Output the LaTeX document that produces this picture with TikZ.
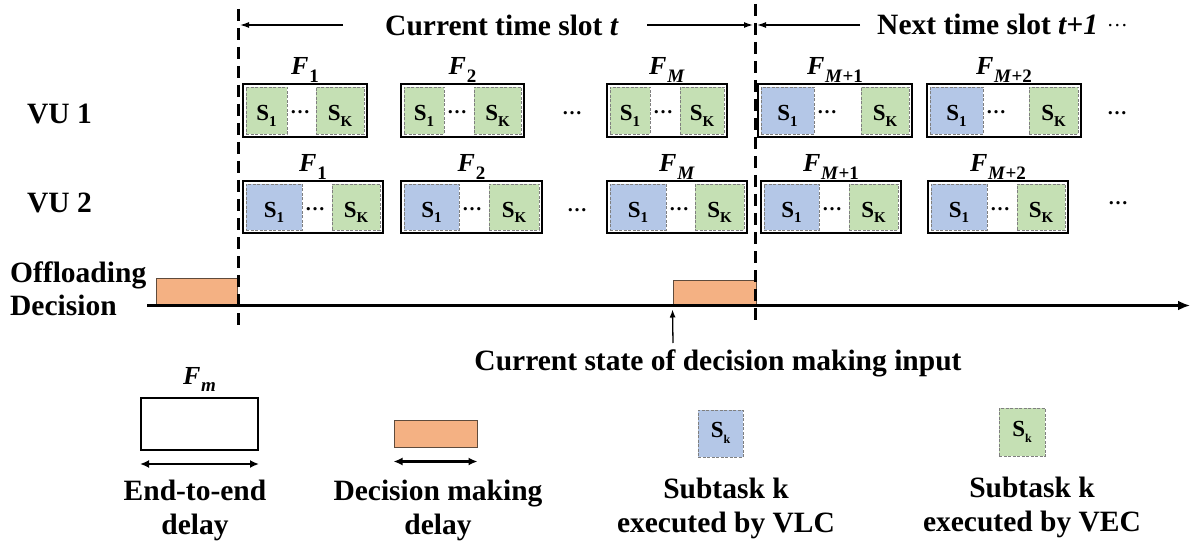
\documentclass[tikz,border=0pt]{standalone}
\usepackage{fontspec}
\setmainfont{Liberation Serif}
\usetikzlibrary{fit,arrows.meta}

\definecolor{vlcblue}{HTML}{B4C7E7}
\definecolor{vecgreen}{HTML}{C5E0B4}
\definecolor{decorange}{HTML}{F4B183}
\definecolor{decedge}{HTML}{5E4B3C}
\definecolor{subedge}{HTML}{7F7F7F}

% frame label F with a subscript
\newcommand\Fl[1]{\textbf{\textit{F}}\kern0.03em\raisebox{-0.3em}{\fontsize{19}{19}\selectfont\bfseries #1}}
% subtask label S with a subscript
\newcommand\Ss[1]{S\raisebox{-0.22em}{\fontsize{15}{15}\selectfont #1}}
\newcommand\Ssmall[1]{S\raisebox{-0.28em}{\fontsize{12}{12}\selectfont #1}}

\tikzset{
  frame/.style={draw=black, line width=2pt, inner sep=0pt, fill=white},
  subbox/.style={draw=subedge, line width=0.8pt, dash pattern=on 3pt off 1.5pt, inner sep=0pt},
  subtext/.style={font=\fontsize{23}{23}\selectfont\bfseries, inner sep=0pt, anchor=base},
  vlc/.style={subbox, fill=vlcblue},
  vec/.style={subbox, fill=vecgreen},
  flabel/.style={font=\fontsize{26}{26}\selectfont, anchor=base, inner sep=0pt},
  big/.style={font=\fontsize{29.5}{34}\selectfont\bfseries, inner sep=0pt},
  slotline/.style={line width=3pt, dash pattern=on 12pt off 7pt},
  slotarrow/.style={line width=1.3pt, -{Latex[length=9pt,width=6pt]}},
  decision/.style={draw=decedge, line width=1pt, fill=decorange, inner sep=0pt},
  dotsnode/.style={font=\fontsize{20}{20}\selectfont\bfseries, anchor=base, inner sep=0pt},
  legarrow/.style={line width=2.5pt, {Latex[length=9pt,width=8pt]}-{Latex[length=9pt,width=8pt]}},
}

% #1 name, #2 x1, #3 x2, #4 y1, #5 y2, #6 style of S_1, #7 right of S_1, #8 left of S_K, #9 label
\newcommand\taskframe[9]{%
  \node[frame, fit={(#2,#4)(#3,#5)}] (#1) {};
  \node[#6, fit={({#2+3},{#4+3})(#7,{#5-3})}] (#1a) {};
  \node[vec, fit={(#8,{#4+3})({#3-3},{#5-3})}] (#1b) {};
  \node[subtext] (#1at) at ([yshift=-10.5pt]#1a.center) {\Ss{1}};
  \node[subtext] (#1bt) at ([yshift=-10.5pt]#1b.center) {\Ss{K}};
  \node[dotsnode, anchor=base west] (#1d) at ({#7+3},{(#4+#5)/2+3.5}) {…};
  \node[flabel] (#1l) at ([yshift=8pt]#1.north) {\Fl{#9}};
}

\begin{document}
\begin{tikzpicture}[x=1pt, y=-1pt]
\useasboundingbox (0,0) rectangle (1191,548);

% time slot boundaries
\coordinate (d1top) at (238,9);
\coordinate (d1bot) at (238,326);
\coordinate (d2top) at (755,4);
\coordinate (d2bot) at (755,326);

% headings
\node[big, anchor=base west] (cur) at (385,36) {Current time slot \textit{t}};
\node[big, anchor=base west] (nxt) at (877,35) {Next time slot \textit{t+1}\hspace{0.3em}{\mdseries\fontsize{21}{21}\selectfont\raisebox{8.5pt}{…}}};
\coordinate (a1s) at (343,25);
\coordinate (a1e) at (240,25);
\coordinate (a2s) at (647,25);
\coordinate (a2e) at (753,25);
\coordinate (a3s) at (860,25);
\coordinate (a3e) at (757,25);
\draw[slotarrow] (a1s) -- (a1e);
\draw[slotarrow] (a2s) -- (a2e);
\draw[slotarrow] (a3s) -- (a3e);

% row labels
\node[big, anchor=base west] (vu1) at (27,124) {VU 1};
\node[big, anchor=base west] (vu2) at (27,213) {VU 2};
\node[big, anchor=base west] (off) at (10,282) {Offloading};
\node[big, anchor=base west] (dec) at (10,315) {Decision};

% VU 1 frames
\taskframe{A1}{243}{367}{84}{137}{vec}{287}{316}{1}
\taskframe{A2}{401}{524}{84}{137}{vec}{444}{474}{2}
\taskframe{AM}{607}{727}{84}{137}{vec}{650}{680}{\textit{M}}
\taskframe{AN}{758}{912}{84}{137}{vlc}{814}{861}{\textit{M}+1}
\taskframe{AP}{927}{1081}{84}{137}{vlc}{983}{1029}{\textit{M}+2}
\node[dotsnode] (Adots1) at (572,114.5) {…};
\node[dotsnode] (Adots2) at (1117,114.5) {…};

% VU 2 frames
\taskframe{B1}{243}{383}{181}{233}{vlc}{302}{332}{1}
\taskframe{B2}{401}{542}{181}{233}{vlc}{459}{489}{2}
\taskframe{BM}{607}{747}{181}{233}{vlc}{666}{695}{\textit{M}}
\taskframe{BN}{761}{901}{181}{233}{vlc}{819}{849}{\textit{M}+1}
\taskframe{BP}{928}{1068}{181}{233}{vlc}{987}{1017}{\textit{M}+2}
\node[dotsnode] (Bdots1) at (577,211.5) {…};
\node[dotsnode] (Bdots2) at (1118,205) {…};

% decision making intervals and time axis
\node[decision, fit={(156,278)(237,305)}] (od1) {};
\node[decision, fit={(673,280)(756,305)}] (od2) {};
\coordinate (ax0) at (147,305.5);
\coordinate (ax1) at (1190,305.5);
\draw[line width=2.5pt, -{Latex[length=12pt,width=10pt]}] (ax0) -- (ax1);

\draw[slotline] (d1top) -- (d1bot);
\draw[slotline] (d2top) -- (d2bot);

% decision input marker
\node[big, anchor=base] (cs) at (718,370) {Current state of decision making input};
\coordinate (csin) at (673,343);
\draw[line width=1.3pt, -{Latex[length=8pt,width=6pt]}] (csin) -- ([yshift=-4pt]od2.south west);

% legend
\node[frame, fit={(141,398)(258,450)}] (lf) {};
\node[flabel] (lfl) at ([yshift=13pt]lf.north) {\Fl{\textit{m}}};
\draw[legarrow] ([yshift=-13pt]lf.south west) -- ([yshift=-13pt]lf.south east);
\node[big, align=center, anchor=base] (lft) at (195,534) {End-to-end\\delay};

\node[decision, fit={(394,420)(477,447)}] (lo) {};
\draw[legarrow] ([yshift=-14pt]lo.south west) -- ([yshift=-14pt]lo.south east);
\node[big, align=center, anchor=base] (lot) at (438,534) {Decision making\\delay};

\node[vlc, fit={(698,410)(743,457)}] (lb) {};
\node[subtext] (lbs) at ([yshift=-4pt]lb.center) {\Ssmall{k}};
\node[big, align=center, anchor=base] (lbt) at (726,532) {Subtask k\\executed by VLC};

\node[vec, fit={(999,408)(1045,456)}] (lg) {};
\node[subtext] (lgs) at ([yshift=-4pt]lg.center) {\Ssmall{k}};
\node[big, align=center, anchor=base] (lgt) at (1032,531) {Subtask k\\executed by VEC};
\end{tikzpicture}
\end{document}
